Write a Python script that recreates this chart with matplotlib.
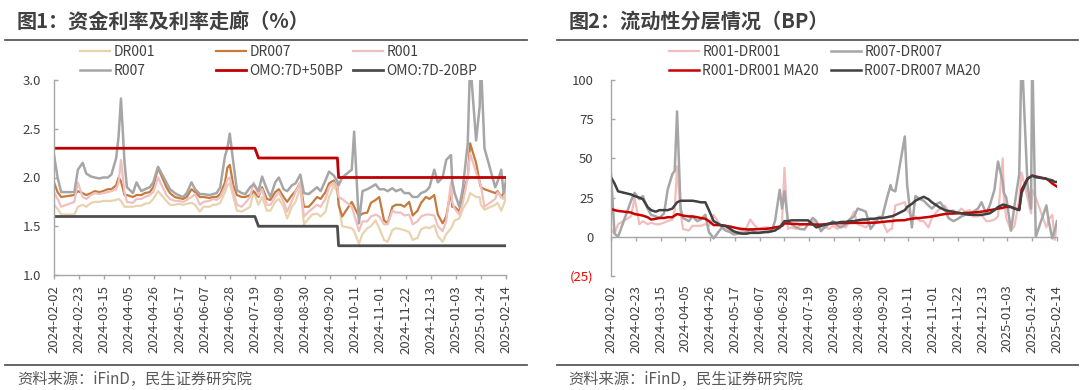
import matplotlib
matplotlib.use("Agg")
import matplotlib.pyplot as plt
import matplotlib.dates as mdates
from matplotlib.lines import Line2D
import pandas as pd

plt.rcParams['font.family'] = ['Noto Sans CJK SC', 'DejaVu Sans']

# ---------------- data ----------------
dates = [
    "2024-02-02", "2024-02-05", "2024-02-08", "2024-02-19", "2024-02-22", "2024-02-26", "2024-02-29",
    "2024-03-04", "2024-03-07", "2024-03-11", "2024-03-14", "2024-03-18", "2024-03-21", "2024-03-25", "2024-03-27", "2024-03-29",
    "2024-04-01", "2024-04-03", "2024-04-08", "2024-04-11", "2024-04-15", "2024-04-18", "2024-04-22", "2024-04-25", "2024-04-29",
    "2024-05-06", "2024-05-09", "2024-05-13", "2024-05-16", "2024-05-20", "2024-05-23", "2024-05-27", "2024-05-30",
    "2024-06-03", "2024-06-06", "2024-06-11", "2024-06-14", "2024-06-17", "2024-06-20", "2024-06-24", "2024-06-26", "2024-06-28",
    "2024-07-01", "2024-07-04", "2024-07-08", "2024-07-11", "2024-07-15", "2024-07-18", "2024-07-22", "2024-07-25", "2024-07-29",
    "2024-08-01", "2024-08-05", "2024-08-08", "2024-08-12", "2024-08-15", "2024-08-19", "2024-08-22", "2024-08-26", "2024-08-29",
    "2024-09-02", "2024-09-05", "2024-09-09", "2024-09-12", "2024-09-16", "2024-09-19", "2024-09-23", "2024-09-26", "2024-09-27", "2024-09-30",
    "2024-10-08", "2024-10-10", "2024-10-14", "2024-10-17", "2024-10-21", "2024-10-24", "2024-10-28", "2024-10-31",
    "2024-11-04", "2024-11-07", "2024-11-11", "2024-11-14", "2024-11-18", "2024-11-21", "2024-11-25", "2024-11-28",
    "2024-12-02", "2024-12-05", "2024-12-09", "2024-12-12", "2024-12-16", "2024-12-19", "2024-12-23", "2024-12-26", "2024-12-30", "2024-12-31",
    "2025-01-02", "2025-01-06", "2025-01-09", "2025-01-13", "2025-01-15", "2025-01-20", "2025-01-23", "2025-01-24", "2025-01-27",
    "2025-02-05", "2025-02-07", "2025-02-10", "2025-02-12", "2025-02-14",
]

dr001 = [
    1.72, 1.68, 1.62, 1.62, 1.70, 1.72, 1.70,
    1.74, 1.75, 1.75, 1.76, 1.76, 1.76, 1.77, 1.78, 1.76,
    1.70, 1.70, 1.70, 1.71, 1.71, 1.73, 1.74, 1.78, 1.86,
    1.76, 1.72, 1.72, 1.73, 1.72, 1.73, 1.74, 1.72,
    1.65, 1.70, 1.70, 1.72, 1.72, 1.74, 1.85, 1.92, 1.94,
    1.80, 1.66, 1.65, 1.67, 1.70, 1.85, 1.72, 1.80, 1.66,
    1.66, 1.75, 1.78, 1.70, 1.58, 1.70, 1.75, 1.90, 1.52,
    1.58, 1.62, 1.63, 1.60, 1.65, 1.80, 1.92, 1.85, 1.75, 1.50,
    1.48, 1.45, 1.32, 1.42, 1.48, 1.50, 1.56, 1.48,
    1.36, 1.34, 1.46, 1.48, 1.47, 1.46, 1.44, 1.36,
    1.38, 1.47, 1.49, 1.48, 1.51, 1.40, 1.34, 1.42, 1.48, 1.50,
    1.56, 1.58, 1.68, 1.76, 1.84, 1.80, 1.80, 1.72, 1.67,
    1.72, 1.74, 1.66, 1.72, 1.79,
]

dr007 = [
    1.95, 1.85, 1.80, 1.82, 1.86, 1.84, 1.82,
    1.84, 1.86, 1.85, 1.86, 1.88, 1.88, 1.92, 2.00, 1.96,
    1.82, 1.82, 1.80, 1.82, 1.82, 1.84, 1.85, 1.90, 2.10,
    1.90, 1.84, 1.80, 1.79, 1.78, 1.80, 1.88, 1.85,
    1.80, 1.80, 1.79, 1.80, 1.80, 1.83, 1.95, 2.10, 2.13,
    1.92, 1.82, 1.80, 1.80, 1.82, 1.86, 1.80, 1.90, 1.78,
    1.77, 1.85, 1.88, 1.80, 1.75, 1.82, 1.86, 1.95, 1.70,
    1.70, 1.74, 1.80, 1.78, 1.85, 1.94, 1.97, 1.90, 1.72, 1.60,
    1.75, 1.70, 1.60, 1.63, 1.64, 1.74, 1.77, 1.80,
    1.56, 1.53, 1.70, 1.72, 1.72, 1.70, 1.75, 1.61,
    1.66, 1.74, 1.80, 1.78, 1.82, 1.62, 1.53, 1.60, 1.87, 1.70,
    1.70, 1.65, 1.84, 2.00, 2.35, 2.15, 1.95, 1.90, 1.88,
    1.84, 1.86, 1.80, 1.84, 1.91,
]

r001 = [
    1.85, 1.78, 1.70, 1.75, 1.95, 1.80, 1.78,
    1.82, 1.84, 1.83, 1.84, 1.85, 1.86, 1.88, 1.95, 2.18,
    1.85, 1.75, 1.74, 1.78, 1.78, 1.80, 1.82, 1.85, 2.00,
    1.82, 1.78, 1.76, 1.76, 1.75, 1.77, 1.80, 1.83,
    1.72, 1.75, 1.76, 1.78, 1.77, 1.80, 1.90, 1.98, 2.00,
    1.85, 1.72, 1.70, 1.74, 1.80, 1.95, 1.82, 1.88, 1.72,
    1.72, 1.80, 1.85, 1.75, 1.65, 1.76, 1.85, 1.95, 1.60,
    1.65, 1.68, 1.72, 1.70, 1.78, 1.90, 1.95, 1.90, 1.80, 1.78,
    1.70, 1.62, 1.45, 1.55, 1.55, 1.60, 1.62, 1.60,
    1.52, 1.52, 1.66, 1.64, 1.64, 1.61, 1.62, 1.52,
    1.55, 1.60, 1.62, 1.62, 1.61, 1.50, 1.45, 1.55, 1.95, 1.75,
    1.68, 1.62, 1.75, 2.00, 2.25, 2.05, 1.95, 1.92, 1.70,
    1.78, 1.85, 1.80, 1.78, 1.88,
]

r007 = [
    2.23, 2.00, 1.85, 1.85, 2.08, 2.15, 2.04,
    2.01, 2.00, 1.99, 2.00, 2.00, 2.03, 2.20, 2.42, 2.81,
    2.15, 1.90, 1.84, 1.95, 1.86, 1.88, 1.90, 1.95, 2.11,
    1.95, 1.88, 1.84, 1.82, 1.80, 1.84, 1.95, 1.88,
    1.83, 1.83, 1.82, 1.83, 1.84, 1.90, 2.22, 2.30, 2.45,
    2.15, 1.87, 1.84, 1.83, 1.90, 1.93, 1.86, 2.01, 1.88,
    1.80, 1.95, 2.00, 1.88, 1.86, 1.92, 1.94, 2.03, 1.84,
    1.83, 1.86, 1.90, 1.86, 1.97, 2.06, 2.02, 1.96, 1.92, 2.00,
    2.08, 2.47, 1.53, 1.86, 1.88, 1.90, 1.93, 1.88,
    1.88, 1.86, 1.89, 1.86, 1.88, 1.84, 1.84, 1.80,
    1.80, 1.84, 1.86, 1.90, 2.08, 1.95, 2.00, 2.18, 2.23, 1.96,
    1.84, 1.70, 1.90, 2.35, 3.20, 2.38, 2.73, 3.20, 2.30,
    1.90, 1.96, 2.08, 1.84, 1.97,
]

# OMO 7D reverse repo policy rate (change points)
omo_dates = ["2024-02-02", "2024-07-19", "2024-07-22", "2024-09-26", "2024-09-27", "2025-02-14"]
omo_7d = [1.8, 1.8, 1.7, 1.7, 1.5, 1.5]

# spreads (BP)
sp_r001_dr001 = [
    5, 2, 8, 13, 25, 8, 10,
    8, 9, 8, 8, 9, 10, 11, 17, 45,
    15, 5, 4, 7, 7, 7, 8, 7, 14,
    6, 6, 4, 3, 3, 4, 6, 11,
    7, 5, 6, 6, 5, 6, 5, 10, 44,
    5, 6, 5, 7, 8, 8, 10, 8, 6,
    6, 5, 7, 5, 7, 6, 10, 16, 8,
    7, 6, 9, 10, 13, 10, 3, 5, 5, 20,
    22, 17, 13, 13, 10, 10, 6, 12,
    16, 18, 20, 16, 17, 15, 18, 16,
    17, 13, 13, 14, 10, 10, 11, 13, 50, 25,
    12, 4, 7, 24, 41, 25, 15, 30, 25,
    6, 11, 14, -2, 9,
]

sp_r007_dr007 = [
    40, 2, 0, 23, 28, 24, 26,
    18, 14, 13, 12, 15, 30, 40, 42, 80,
    18, 12, 10, 13, 10, 11, 14, 3, -1,
    6, 4, 3, 1.5, 2, 2.5, 3, 4.7,
    3, 2.5, 3, 3.5, 3.6, 10, 30, 18, 29,
    10, 8, 6, 5, 4.7, 8, 12, 10, 3.6,
    6, 8, 10, 7, 6, 8, 11, 13, 18,
    17, 16, 5, 8, 12, 13, 25, 33, 30, 29,
    64, 33, 6, 26, 24, 23, 20, 18,
    21, 22, 18, 12, 10, 11, 13, 14,
    15, 16, 18, 22, 15, 20, 30, 48, 35, 28,
    25, 4, 20, 40, 120, 33, 18, 120, 0,
    20, 10, -1, 4, 10,
]

ma20_r001_dr001 = [
    17.8, 17, 16.5, 15.5, 14.5, 14, 13.5,
    12.5, 11, 11.5, 12, 12, 12.5, 12.5, 13.5, 14.5,
    14, 13.5, 13, 13, 12.5, 12, 11.5, 10, 7.5,
    7.4, 7, 6.5, 6, 5.3, 5, 4.7, 4.7,
    4.8, 4.9, 5, 5.2, 5.5, 6, 6.5, 7, 8.5,
    8.5, 8.3, 8.2, 8, 8, 8, 7.8, 7.8, 7.8,
    8, 8.3, 8.5, 8.7, 8.7, 8.8, 8.8, 8.9, 8.9,
    8.9, 8.9, 8.9, 9, 9.2, 9.5, 9.8, 10, 10, 10.4,
    10.6, 11, 11.5, 11.8, 12, 12.3, 12.6, 13,
    13.5, 14, 14.5, 14.8, 14.8, 15, 15, 15.2,
    15.3, 15.5, 15.8, 16, 16.5, 17, 17.5, 18, 18.4, 18.8,
    19, 19, 18, 17.4, 30, 37, 38.5, 39, 38.5,
    37, 36, 34, 33, 32,
]

ma20_r007_dr007 = [
    38, 34, 29, 27, 26, 25, 24,
    19, 17, 16, 17, 17, 17, 18, 20, 22,
    23, 23, 23, 23, 22.5, 22, 22, 17, 10,
    7, 7, 5, 3.5, 2.5, 2, 2, 2.5,
    2.5, 2.5, 3, 3, 3.5, 4, 6, 8, 10,
    10, 10.5, 10.5, 10.5, 10.5, 10.5, 8, 6, 7,
    7.5, 8.5, 9, 9, 9.5, 9.5, 10, 10, 10.5,
    11, 11, 11.5, 11.5, 12, 12, 12.5, 13, 13, 14,
    17, 19, 21, 23, 24.5, 25.5, 24, 22,
    20, 18.5, 17, 16.5, 16, 15.5, 15, 14.5,
    14, 14, 14, 14, 14.5, 15, 17, 19, 20.5, 20.5,
    20, 19, 18, 17, 28, 37, 38.5, 39, 38,
    37, 36.5, 36, 35, 35,
]

x_ticks = ["2024-02-02", "2024-02-23", "2024-03-15", "2024-04-05", "2024-04-26", "2024-05-17",
           "2024-06-07", "2024-06-28", "2024-07-19", "2024-08-09", "2024-08-30", "2024-09-20",
           "2024-10-11", "2024-11-01", "2024-11-22", "2024-12-13", "2025-01-03", "2025-01-24",
           "2025-02-14"]
left_yticks = [1.0, 1.5, 2.0, 2.5, 3.0]
left_ytick_labels = ["1.0", "1.5", "2.0", "2.5", "3.0"]
right_yticks = [-25, 0, 25, 50, 75, 100]
right_ytick_labels = ["(25)", "0", "25", "50", "75", "100"]

title1 = "图1：资金利率及利率走廊（%）"
title2 = "图2：流动性分层情况（BP）"
source = "资料来源：iFinD，民生证券研究院"

# ---------------- figure ----------------
W, H = 1080, 390
fig = plt.figure(figsize=(W / 100, H / 100), dpi=100)

def fx(px):
    return px / W

def fy(py):
    return 1 - py / H

d = pd.to_datetime(dates)
od = pd.to_datetime(omo_dates)
xt = pd.to_datetime(x_ticks)

SPINE = '#A6A6A6'
TXT = '#404040'

ax1 = fig.add_axes([fx(54), fy(275), fx(506) - fx(54), fy(80) - fy(275)])
ax2 = fig.add_axes([fx(611), fy(276), fx(1057) - fx(611), fy(80) - fy(276)])

c_dr001 = '#E8D3AE'
c_dr007 = '#C57A3E'
c_r001 = '#EFC0C0'
c_r007 = '#A6A6A6'
c_up = '#C00000'
c_dn = '#4D4D4D'

l1, = ax1.plot(d, dr001, color=c_dr001, lw=1.6, label='DR001')
l2, = ax1.plot(d, dr007, color=c_dr007, lw=1.6, label='DR007')
l3, = ax1.plot(d, r001, color=c_r001, lw=1.6, label='R001')
l4, = ax1.plot(d, r007, color=c_r007, lw=1.8, label='R007')
omo = pd.Series(omo_7d)
l5, = ax1.plot(od, omo + 0.5, color=c_up, lw=2.0, label='OMO:7D+50BP')
l6, = ax1.plot(od, omo - 0.2, color=c_dn, lw=2.0, label='OMO:7D-20BP')

ax1.set_ylim(1.0, 3.0)
ax1.set_yticks(left_yticks)
ax1.set_yticklabels(left_ytick_labels)

c_s1 = '#F2BDBD'
c_s2 = '#A6A6A6'
c_m1 = '#C80000'
c_m2 = '#404040'
m1, = ax2.plot(d, sp_r001_dr001, color=c_s1, lw=1.6, label='R001-DR001')
m2, = ax2.plot(d, sp_r007_dr007, color=c_s2, lw=1.8, label='R007-DR007')
m3, = ax2.plot(d, ma20_r001_dr001, color=c_m1, lw=1.8, label='R001-DR001 MA20')
m4, = ax2.plot(d, ma20_r007_dr007, color=c_m2, lw=1.8, label='R007-DR007 MA20')

ax2.set_ylim(-25, 100)
ax2.set_yticks(right_yticks)
ax2.set_yticklabels(right_ytick_labels)
ax2.get_yticklabels()[0].set_color('#FF0000')
ax2.spines['bottom'].set_position(('data', 0))

for ax, xpad, ypad in ((ax1, 4.5, 9.5), (ax2, 31.5, 12.5)):
    ax.set_xlim(pd.Timestamp("2024-02-02"), pd.Timestamp("2025-02-14"))
    ax.set_xticks(xt)
    ax.set_xticklabels(x_ticks, rotation=90)
    for s in ('top', 'right'):
        ax.spines[s].set_visible(False)
    for s in ('left', 'bottom'):
        ax.spines[s].set_color(SPINE)
        ax.spines[s].set_linewidth(1.0)
    ax.tick_params(axis='x', direction='out', length=3, width=1, color=SPINE,
                   labelsize=9.5, labelcolor=TXT, pad=xpad)
    ax.tick_params(axis='y', direction='in', length=3, width=1, color=SPINE,
                   labelsize=9.5, labelcolor=TXT, pad=ypad)
ax2.get_yticklabels()[0].set_color('#FF0000')

# legends (one per entry, placed like the reference)
def entry(handle, x, y):
    lg = fig.legend(handles=[handle], loc='center left', bbox_to_anchor=(fx(x), fy(y)),
                    frameon=False, borderpad=0, borderaxespad=0, handlelength=2.15,
                    handletextpad=0.25, fontsize=10, labelcolor=TXT)
    return lg

entry(l1, 80, 52)
entry(l2, 216, 52)
entry(l3, 353, 52)
entry(l4, 80, 71)
entry(l5, 216, 71)
entry(l6, 353, 71)

entry(m1, 669, 52)
entry(m2, 831, 52)
entry(m3, 669, 71)
entry(m4, 831, 71)

# titles, rules and source
fig.text(fx(17), fy(21), title1, fontsize=14.5, fontweight='bold', color=TXT, ha='left', va='center')
fig.text(fx(569), fy(21), title2, fontsize=14.5, fontweight='bold', color=TXT, ha='left', va='center')
for x0, x1 in ((5, 527), (557, 1078)):
    fig.add_artist(Line2D([fx(x0), fx(x1)], [fy(39.5), fy(39.5)], color='#595959', lw=1.3))
    fig.add_artist(Line2D([fx(x0), fx(x1)], [fy(365), fy(365)], color='#595959', lw=1.3))
fig.text(fx(17), fy(379), source, fontsize=11, color='#595959', ha='left', va='center')
fig.text(fx(568), fy(379), source, fontsize=11, color='#595959', ha='left', va='center')

fig.savefig("out.png", dpi=100)
